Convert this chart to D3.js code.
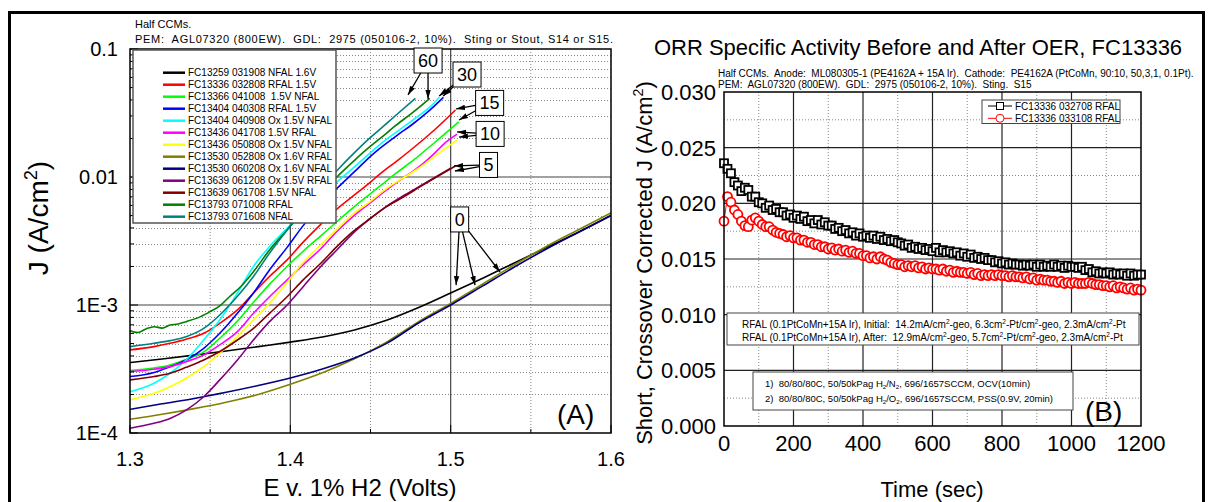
<!DOCTYPE html>
<html>
<head>
<meta charset="utf-8">
<script src="https://cdn.jsdelivr.net/npm/d3@7"></script>
<style>
  body { margin: 0; background: #fff; }
  svg { display: block; font-family: "Liberation Sans", Arial, sans-serif; }
  text { white-space: pre; }
</style>
</head>
<body>
<svg id="chart" width="1213" height="502"></svg>
<script>
// ---------- panel A : E (V) vs J (A/cm2) ----------
const eTicks = [1.3, 1.4, 1.5, 1.6];
const jTicks = [1e-4, 1e-3, 1e-2, 1e-1];
const jTickLabels = ["1E-4", "1E-3", "0.01", "0.1"];

const seriesNames = [
  "FC13259 031908 NFAL 1.6V",
  "FC13336 032808 RFAL 1.5V",
  "FC13366 041008  1.5V NFAL",
  "FC13404 040308 RFAL 1.5V",
  "FC13404 040908 Ox 1.5V NFAL",
  "FC13436 041708 1.5V RFAL",
  "FC13436 050808 Ox 1.5V NFAL",
  "FC13530 052808 Ox 1.6V RFAL",
  "FC13530 060208 Ox 1.6V NFAL",
  "FC13639 061208 Ox 1.5V RFAL",
  "FC13639 061708 1.5V NFAL",
  "FC13793 071008 RFAL",
  "FC13793 071608 NFAL"
];
const seriesColors = ["#000000", "#ff0000", "#00ff00", "#0000ff", "#00ffff", "#ff00ff",
  "#ffff00", "#808000", "#000080", "#800080", "#800000", "#008000", "#008080"];

const fc13259 = [[1.30,3.55e-4],[1.32,3.79e-4],[1.34,4.06e-4],[1.36,4.37e-4],[1.38,4.73e-4],
  [1.40,5.13e-4],[1.42,5.62e-4],[1.44,6.38e-4],[1.46,7.59e-4],[1.48,9.55e-4],[1.50,1.24e-3],
  [1.52,1.62e-3],[1.54,2.14e-3],[1.56,2.82e-3],[1.58,3.72e-3],[1.60,5.01e-3]];
const fc13336 = [[1.300,4.46e-4],[1.315,4.73e-4],[1.325,5.02e-4],[1.335,5.40e-4],[1.346,6.01e-4],
  [1.356,7.19e-4],[1.367,9.15e-4],[1.377,1.24e-3],[1.387,1.67e-3],[1.398,2.25e-3],[1.408,3.10e-3],
  [1.419,4.27e-3],[1.429,5.62e-3],[1.439,7.08e-3],[1.450,9.12e-3],[1.456,1.06e-2],[1.466,1.32e-2],
  [1.477,1.70e-2],[1.490,2.34e-2],[1.503,3.34e-2]];
const fc13366 = [[1.300,3.08e-4],[1.315,3.22e-4],[1.325,3.40e-4],[1.335,3.75e-4],[1.346,4.30e-4],
  [1.356,5.50e-4],[1.367,7.50e-4],[1.377,1.05e-3],[1.387,1.45e-3],[1.398,2.00e-3],[1.408,2.63e-3],
  [1.419,3.47e-3],[1.429,4.47e-3],[1.439,5.75e-3],[1.450,7.41e-3],[1.456,8.51e-3],[1.466,1.07e-2],
  [1.477,1.36e-2],[1.490,1.86e-2],[1.505,2.70e-2]];
const fc13404a = [[1.300,2.76e-4],[1.315,2.97e-4],[1.325,3.30e-4],[1.335,3.72e-4],[1.346,4.59e-4],
  [1.356,6.01e-4],[1.367,8.61e-4],[1.377,1.24e-3],[1.387,1.88e-3],[1.398,2.82e-3],[1.408,4.17e-3],
  [1.419,6.03e-3],[1.429,8.13e-3],[1.440,1.10e-2],[1.450,1.45e-2],[1.456,1.68e-2],[1.466,2.09e-2],
  [1.477,2.63e-2],[1.487,3.33e-2],[1.4955,4.19e-2]];
const fc13404b = [[1.300,2.10e-4],[1.315,2.45e-4],[1.325,2.93e-4],[1.335,3.72e-4],[1.346,5.33e-4],
  [1.356,7.64e-4],[1.367,1.24e-3],[1.377,2.00e-3],[1.387,2.86e-3],[1.398,3.98e-3],[1.408,5.25e-3],
  [1.419,6.92e-3],[1.429,9.12e-3],[1.440,1.20e-2],[1.450,1.55e-2],[1.456,1.80e-2],[1.466,2.24e-2],
  [1.477,2.82e-2],[1.487,3.51e-2],[1.493,4.20e-2]];
const fc13436a = [[1.300,3.02e-4],[1.315,3.15e-4],[1.325,3.30e-4],[1.335,3.61e-4],[1.346,4.07e-4],
  [1.356,4.88e-4],[1.367,6.19e-4],[1.377,8.61e-4],[1.387,1.16e-3],[1.398,1.57e-3],[1.408,2.06e-3],
  [1.419,2.75e-3],[1.429,3.75e-3],[1.439,4.90e-3],[1.450,6.31e-3],[1.460,7.94e-3],[1.470,9.77e-3],
  [1.477,1.12e-2],[1.486,1.38e-2],[1.491,1.58e-2],[1.4955,1.80e-2],[1.504,2.16e-2]];
const fc13436b = [[1.300,1.81e-4],[1.315,2.04e-4],[1.325,2.30e-4],[1.335,2.68e-4],[1.346,3.30e-4],
  [1.356,4.20e-4],[1.367,5.66e-4],[1.377,7.64e-4],[1.387,1.03e-3],[1.398,1.50e-3],[1.408,2.15e-3],
  [1.419,2.95e-3],[1.429,3.90e-3],[1.439,5.13e-3],[1.450,6.46e-3],[1.460,8.13e-3],[1.470,9.77e-3],
  [1.480,1.17e-2],[1.490,1.45e-2],[1.504,1.95e-2]];
const fc13530a = [[1.30,1.28e-4],[1.32,1.40e-4],[1.34,1.55e-4],[1.36,1.74e-4],[1.38,2.00e-4],
  [1.40,2.40e-4],[1.42,2.95e-4],[1.44,3.80e-4],[1.46,5.13e-4],[1.48,7.41e-4],[1.50,1.03e-3],
  [1.52,1.46e-3],[1.54,2.07e-3],[1.56,2.88e-3],[1.58,3.89e-3],[1.60,5.25e-3]];
const fc13530b = [[1.30,1.53e-4],[1.32,1.69e-4],[1.34,1.86e-4],[1.36,2.08e-4],[1.38,2.35e-4],
  [1.40,2.69e-4],[1.42,3.16e-4],[1.44,3.85e-4],[1.46,5.01e-4],[1.48,7.24e-4],[1.50,1.00e-3],
  [1.52,1.41e-3],[1.54,1.99e-3],[1.56,2.75e-3],[1.58,3.72e-3],[1.60,5.01e-3]];
const fc13639a = [[1.300,1.09e-4],[1.315,1.19e-4],[1.325,1.30e-4],[1.335,1.51e-4],[1.346,1.92e-4],
  [1.356,2.60e-4],[1.367,3.72e-4],[1.377,5.33e-4],[1.387,7.41e-4],[1.398,1.00e-3],[1.408,1.39e-3],
  [1.419,2.00e-3],[1.429,2.69e-3],[1.439,3.63e-3],[1.450,4.76e-3],[1.460,5.90e-3],[1.471,7.20e-3],
  [1.481,8.50e-3],[1.500,1.17e-2]];
const fc13639b = [[1.300,2.60e-4],[1.315,2.76e-4],[1.325,2.93e-4],[1.335,3.26e-4],[1.346,3.72e-4],
  [1.356,4.33e-4],[1.367,5.33e-4],[1.377,6.57e-4],[1.387,8.61e-4],[1.398,1.16e-3],[1.408,1.57e-3],
  [1.419,2.12e-3],[1.429,2.86e-3],[1.439,3.74e-3],[1.450,4.76e-3],[1.460,5.87e-3],[1.471,7.03e-3],
  [1.481,8.41e-3],[1.503,1.22e-2]];
const fc13793a = [[1.300,6.30e-4],[1.305,6.10e-4],[1.310,6.50e-4],[1.315,6.77e-4],[1.320,6.60e-4],
  [1.325,6.98e-4],[1.330,7.10e-4],[1.335,7.41e-4],[1.344,8.11e-4],[1.350,8.88e-4],[1.356,9.84e-4],
  [1.362,1.16e-3],[1.369,1.39e-3],[1.377,1.82e-3],[1.387,2.69e-3],[1.398,3.86e-3],[1.408,5.37e-3],
  [1.419,7.41e-3],[1.429,1.00e-2],[1.440,1.35e-2],[1.450,1.74e-2],[1.456,2.00e-2],[1.466,2.54e-2],
  [1.477,3.24e-2],[1.487,4.12e-2]];
const fc13793b = [[1.300,4.73e-4],[1.315,5.02e-4],[1.325,5.27e-4],[1.335,5.66e-4],[1.346,6.57e-4],
  [1.356,8.36e-4],[1.367,1.17e-3],[1.377,1.67e-3],[1.387,2.54e-3],[1.398,3.86e-3],[1.408,5.62e-3],
  [1.419,8.13e-3],[1.429,1.12e-2],[1.440,1.55e-2],[1.450,2.04e-2],[1.456,2.37e-2],[1.466,3.05e-2],
  [1.478,4.12e-2]];
const seriesData = [fc13259, fc13336, fc13366, fc13404a, fc13404b, fc13436a, fc13436b,
  fc13530a, fc13530b, fc13639a, fc13639b, fc13793a, fc13793b];

// OER minutes: box centre (E, J) and arrow targets
const oerLabels = [
  { label: "60", e: 1.4859, j: 0.0813, tips: [[1.4734, 0.0438], [1.4859, 0.0407]] },
  { label: "30", e: 1.5102, j: 0.0632, tips: [[1.4928, 0.0430], [1.4953, 0.0430]] },
  { label: "15", e: 1.5243, j: 0.0379, tips: [[1.5034, 0.0340], [1.5052, 0.0279]] },
  { label: "10", e: 1.5246, j: 0.0217, tips: [[1.5040, 0.0225], [1.5052, 0.0205]] },
  { label: "5", e: 1.5236, j: 0.01242, tips: [[1.5021, 0.0122], [1.5027, 0.01114]] },
  { label: "0", e: 1.5056, j: 0.00466, tips: [[1.5034, 0.00143], [1.5152, 0.00143], [1.5308, 0.00181]] }
];

// ---------- panel B : ORR activity vs time ----------
const timeTicks = [0, 200, 400, 600, 800, 1000, 1200];
const activityTicks = [0, 0.005, 0.010, 0.015, 0.020, 0.025, 0.030];
const activityNames = ["FC13336 032708 RFAL", "FC13336 033108 RFAL"];
const timeSec = [0,10,20,30,40,50,60,70,80,90,100,110,120,130,140,150,160,170,180,190,200,
  210,220,230,240,250,260,270,280,290,300,310,320,330,340,350,360,370,380,390,400,
  410,420,430,440,450,460,470,480,490,500,510,520,530,540,550,560,570,580,590,600,
  610,620,630,640,650,660,670,680,690,700,710,720,730,740,750,760,770,780,790,800,
  810,820,830,840,850,860,870,880,890,900,910,920,930,940,950,960,970,980,990,1000,
  1010,1020,1030,1040,1050,1060,1070,1080,1090,1100,1110,1120,1130,1140,1150,1160,1170,1180,1190,1200];
const before = [0.0236,0.0231,0.0227,0.0219,0.0216,0.0211,0.0214,0.0212,0.0206,0.0206,0.0201,
  0.0200,0.0196,0.0198,0.0194,0.0195,0.0192,0.0192,0.0189,0.0190,0.0187,
  0.0189,0.0186,0.0188,0.0184,0.0185,0.0182,0.0185,0.0181,0.0183,0.0180,
  0.0180,0.0177,0.0178,0.0175,0.0176,0.0173,0.0174,0.0171,0.0173,0.0170,
  0.0171,0.0169,0.0171,0.0168,0.0170,0.0167,0.0168,0.0166,0.0167,0.0165,
  0.0164,0.0162,0.0163,0.0160,0.0161,0.0159,0.0160,0.0158,0.0159,0.0157,
  0.0160,0.0156,0.0158,0.0156,0.0157,0.0155,0.0156,0.0153,0.0155,0.0152,
  0.0154,0.0151,0.0152,0.0150,0.0151,0.0149,0.0149,0.0147,0.0148,0.0146,
  0.0147,0.0145,0.0146,0.0145,0.0145,0.0144,0.0145,0.0144,0.0145,0.0143,
  0.0145,0.0143,0.0144,0.0143,0.0145,0.0143,0.0144,0.0142,0.0144,0.0143,
  0.0143,0.0142,0.0143,0.0140,0.0141,0.0138,0.0139,0.0137,0.0138,0.0137,
  0.0138,0.0136,0.0137,0.0136,0.0137,0.0135,0.0137,0.0135,0.0136,0.0136];
const after = [0.0184,0.0206,0.0201,0.0194,0.0190,0.0184,0.0180,0.0179,0.0185,0.0187,0.0184,
  0.0181,0.0179,0.0179,0.0176,0.0174,0.0173,0.0172,0.0170,0.0171,0.0169,
  0.0169,0.0167,0.0167,0.0165,0.0165,0.0163,0.0163,0.0161,0.0161,0.0159,
  0.0160,0.0158,0.0159,0.0157,0.0158,0.0156,0.0157,0.0155,0.0155,0.0153,
  0.0153,0.0151,0.0152,0.0150,0.0152,0.0150,0.0149,0.0147,0.0146,0.0145,
  0.0145,0.0143,0.0144,0.0143,0.0144,0.0142,0.0143,0.0141,0.0142,0.0141,
  0.0141,0.0140,0.0141,0.0139,0.0140,0.0138,0.0139,0.0138,0.0138,0.0137,
  0.0138,0.0136,0.0137,0.0135,0.0136,0.0135,0.0136,0.0135,0.0136,0.0135,
  0.0135,0.0134,0.0135,0.0134,0.0134,0.0133,0.0134,0.0132,0.0133,0.0131,
  0.0132,0.0131,0.0131,0.0130,0.0130,0.0129,0.0130,0.0128,0.0129,0.0128,
  0.0129,0.0128,0.0128,0.0128,0.0129,0.0128,0.0127,0.0127,0.0126,0.0126,
  0.0125,0.0126,0.0124,0.0125,0.0124,0.0123,0.0124,0.0122,0.0123,0.0122];

const activityNotes = [
  [["RFAL (0.1PtCoMn+15A Ir), Initial:  14.2mA/cm"], ["2", "sup"], ["-geo, 6.3cm"], ["2", "sup"], ["-Pt/cm"], ["2", "sup"], ["-geo, 2.3mA/cm"], ["2", "sup"], ["-Pt"]],
  [["RFAL (0.1PtCoMn+15A Ir), After:  12.9mA/cm"], ["2", "sup"], ["-geo, 5.7cm"], ["2", "sup"], ["-Pt/cm"], ["2", "sup"], ["-geo, 2.3mA/cm"], ["2", "sup"], ["-Pt"]]
];
const conditionNotes = [
  [["1)  80/80/80C, 50/50kPag H"], ["2", "sub"], ["/N"], ["2", "sub"], [", 696/1657SCCM, OCV(10min)"]],
  [["2)  80/80/80C, 50/50kPag H"], ["2", "sub"], ["/O"], ["2", "sub"], [", 696/1657SCCM, PSS(0.9V, 20min)"]]
];

// ---------------------------------------------------------------
const svg = d3.select("#chart");

svg.append("defs").append("marker")
  .attr("id", "arrow")
  .attr("viewBox", "0 0 10 6")
  .attr("refX", 10).attr("refY", 3)
  .attr("markerUnits", "userSpaceOnUse")
  .attr("markerWidth", 9).attr("markerHeight", 6)
  .attr("orient", "auto")
  .append("path").attr("d", "M0,0 L10,3 L0,6 Z").attr("fill", "#000");

// one line of text with super/subscript pieces
function richLine(textSel, parts, size) {
  let shift = 0;
  parts.forEach(p => {
    const mode = p[1];
    const t = textSel.append("tspan").text(p[0]);
    let target = 0;
    if (mode === "sup") { target = -size * 0.4; t.attr("font-size", size * 0.65); }
    if (mode === "sub") { target = size * 0.25; t.attr("font-size", size * 0.65); }
    if (target !== shift) t.attr("dy", target - shift);
    shift = target;
  });
}

// outer frame
svg.append("rect")
  .attr("x", 9.5).attr("y", 12.5).attr("width", 1194).attr("height", 520)
  .attr("fill", "none").attr("stroke", "#000").attr("stroke-width", 3);

function drawPanelA() {
  const x = d3.scaleLinear().domain([1.3, 1.6]).range([130, 611]);
  const y = d3.scaleLog().domain([1e-4, 0.1]).range([433, 49]);
  const g = svg.append("g");
  const isMajorJ = d => jTicks.some(t => Math.abs(t / d - 1) < 1e-6);
  const isMajorE = d => eTicks.some(t => Math.abs(t - d) < 1e-9);

  g.append("text").attr("x", 135).attr("y", 28).attr("font-size", 11).text("Half CCMs.");
  g.append("text").attr("x", 135).attr("y", 43).attr("font-size", 11)
    .attr("textLength", 478).attr("lengthAdjust", "spacing")
    .text("PEM:  AGL07320 (800EW).  GDL:  2975 (050106-2, 10%).  Sting or Stout, S14 or S15.");

  // grid
  g.selectAll(".gx").data(x.ticks(6).filter(d => !isMajorE(d))).enter().append("line")
    .attr("x1", d => x(d)).attr("x2", d => x(d)).attr("y1", 49).attr("y2", 433)
    .attr("stroke", "#888").attr("stroke-dasharray", "1,2");
  g.selectAll(".gy").data(y.ticks().filter(d => !isMajorJ(d))).enter().append("line")
    .attr("x1", 130).attr("x2", 611)
    .attr("y1", d => Math.round(y(d)) + 0.5).attr("y2", d => Math.round(y(d)) + 0.5)
    .attr("stroke", "#888").attr("stroke-dasharray", "1,2");
  g.selectAll(".Gx").data(eTicks.slice(1, -1)).enter().append("line")
    .attr("x1", d => x(d)).attr("x2", d => x(d)).attr("y1", 49).attr("y2", 433)
    .attr("stroke", "#444").attr("stroke-width", 1.2);
  g.selectAll(".Gy").data(jTicks.slice(1, -1)).enter().append("line")
    .attr("x1", 130).attr("x2", 611).attr("y1", d => y(d)).attr("y2", d => y(d))
    .attr("stroke", "#444").attr("stroke-width", 1.2);

  // curves
  const line = d3.line().x(d => x(d[0])).y(d => y(d[1])).curve(d3.curveMonotoneX);
  g.selectAll(".curve").data(seriesData).enter().append("path")
    .attr("d", line).attr("fill", "none")
    .attr("stroke", (d, i) => seriesColors[i]).attr("stroke-width", 1.6);

  // inward ticks
  g.selectAll(".tyl").data(y.ticks()).enter().append("line")
    .attr("x1", 130).attr("x2", d => 130 + (isMajorJ(d) ? 8 : 4))
    .attr("y1", d => y(d)).attr("y2", d => y(d)).attr("stroke", "#000");
  g.selectAll(".txb").data(x.ticks(6)).enter().append("line")
    .attr("x1", d => x(d)).attr("x2", d => x(d))
    .attr("y1", 433).attr("y2", d => 433 - (isMajorE(d) ? 8 : 4))
    .attr("stroke", "#000");

  g.append("rect").attr("x", 130).attr("y", 49).attr("width", 481).attr("height", 384)
    .attr("fill", "none").attr("stroke", "#000").attr("stroke-width", 1.5);

  // tick labels
  g.selectAll(".lx").data(eTicks).enter().append("text")
    .attr("x", d => x(d)).attr("y", 466).attr("text-anchor", "middle").attr("font-size", 20)
    .text(d => d.toFixed(1));
  g.selectAll(".ly").data(jTicks).enter().append("text")
    .attr("x", 118).attr("y", d => y(d)).attr("dy", "0.36em").attr("text-anchor", "end")
    .attr("font-size", 20).text((d, i) => jTickLabels[i]);

  // axis titles
  g.append("text").attr("x", 360).attr("y", 496).attr("text-anchor", "middle")
    .attr("font-size", 24).text("E v. 1% H2 (Volts)");
  const yt = g.append("text").attr("transform", "translate(48,218) rotate(-90)")
    .attr("text-anchor", "middle").attr("font-size", 28);
  richLine(yt, [["J (A/cm"], ["2", "sup"], [")"]], 28);

  // legend
  g.append("rect").attr("x", 133).attr("y", 50).attr("width", 203).attr("height", 173)
    .attr("fill", "#fff").attr("stroke", "#555").attr("stroke-width", 1.5);
  const items = g.selectAll(".li").data(seriesNames).enter().append("g")
    .attr("transform", (d, i) => `translate(0,${72.7 + i * 12})`);
  items.append("line").attr("x1", 163).attr("x2", 185)
    .attr("stroke", (d, i) => seriesColors[i]).attr("stroke-width", 2.5);
  items.append("text").attr("x", 188).attr("dy", "0.35em").attr("font-size", 10).text(d => d);

  // OER minute boxes with arrows
  oerLabels.forEach(a => {
    const cx = x(a.e), cy = y(a.j);
    const t = g.append("text").attr("x", cx).attr("y", cy).attr("dy", "0.36em")
      .attr("text-anchor", "middle").attr("font-size", 18).text(a.label);
    const hw = t.node().getBBox().width / 2 + 4, hh = 12.5;
    a.tips.forEach(tp => {
      const tx = x(tp[0]), ty = y(tp[1]);
      const dx = tx - cx, dy = ty - cy;
      const s = Math.min(Math.abs(hw / dx || Infinity), Math.abs(hh / dy || Infinity));
      g.append("line").attr("x1", cx + dx * s).attr("y1", cy + dy * s)
        .attr("x2", tx).attr("y2", ty).attr("stroke", "#000").attr("stroke-width", 1.3)
        .attr("marker-end", "url(#arrow)");
    });
    g.insert("rect", () => t.node()).attr("x", cx - hw).attr("y", cy - hh)
      .attr("width", hw * 2).attr("height", hh * 2)
      .attr("fill", "#fff").attr("stroke", "#000");
  });

  g.append("text").attr("x", 557).attr("y", 424).attr("font-size", 28).text("(A)");
}

function drawPanelB() {
  const x = d3.scaleLinear().domain([0, 1200]).range([724, 1141]);
  const y = d3.scaleLinear().domain([0, 0.030]).range([426, 92]);
  const g = svg.append("g");

  g.append("text").attr("x", 918).attr("y", 55).attr("text-anchor", "middle")
    .attr("font-size", 22).text("ORR Specific Activity Before and After OER, FC13336");
  g.append("text").attr("x", 718).attr("y", 77).attr("font-size", 10)
    .text("Half CCMs.  Anode:  ML080305-1 (PE4162A + 15A Ir).  Cathode:  PE4162A (PtCoMn, 90:10, 50,3,1, 0.1Pt).");
  g.append("text").attr("x", 718).attr("y", 88).attr("font-size", 10)
    .text("PEM:  AGL07320 (800EW).  GDL:  2975 (050106-2, 10%).  Sting.  S15");

  // grid
  const minorT = d3.pairs(timeTicks).map(p => (p[0] + p[1]) / 2);
  const minorA = d3.pairs(activityTicks).map(p => (p[0] + p[1]) / 2);
  g.selectAll(".gx").data(minorT).enter().append("line")
    .attr("x1", d => x(d)).attr("x2", d => x(d)).attr("y1", 92).attr("y2", 426)
    .attr("stroke", "#888").attr("stroke-dasharray", "1,2");
  g.selectAll(".gy").data(minorA).enter().append("line")
    .attr("x1", 724).attr("x2", 1141).attr("y1", d => y(d)).attr("y2", d => y(d))
    .attr("stroke", "#888").attr("stroke-dasharray", "1,2");
  g.selectAll(".Gx").data(timeTicks.slice(1, -1)).enter().append("line")
    .attr("x1", d => x(d)).attr("x2", d => x(d)).attr("y1", 92).attr("y2", 426)
    .attr("stroke", "#222").attr("stroke-width", 1.2);
  g.selectAll(".Gy").data(activityTicks.slice(1, -1)).enter().append("line")
    .attr("x1", 724).attr("x2", 1141).attr("y1", d => y(d)).attr("y2", d => y(d))
    .attr("stroke", "#222").attr("stroke-width", 1.2);

  // series
  const pts = vals => timeSec.map((t, i) => [t, vals[i]]);
  const line = d3.line().x(d => x(d[0])).y(d => y(d[1]));
  const sBefore = pts(before), sAfter = pts(after);
  g.append("path").attr("d", line(sBefore)).attr("fill", "none").attr("stroke", "#000");
  g.selectAll(".sq").data(sBefore).enter().append("rect")
    .attr("x", d => x(d[0]) - 4).attr("y", d => y(d[1]) - 4)
    .attr("width", 8).attr("height", 8)
    .attr("fill", "#fff").attr("stroke", "#000").attr("stroke-width", 1.8);
  g.append("path").attr("d", line(sAfter)).attr("fill", "none").attr("stroke", "#f00");
  g.selectAll(".ci").data(sAfter).enter().append("circle")
    .attr("cx", d => x(d[0])).attr("cy", d => y(d[1])).attr("r", 4.5)
    .attr("fill", "#fff").attr("stroke", "#f00").attr("stroke-width", 1.8);

  g.append("rect").attr("x", 724).attr("y", 92).attr("width", 417).attr("height", 334)
    .attr("fill", "none").attr("stroke", "#000").attr("stroke-width", 1.5);

  // tick labels
  g.selectAll(".lx").data(timeTicks).enter().append("text")
    .attr("x", d => x(d)).attr("y", 451).attr("text-anchor", "middle").attr("font-size", 22)
    .text(d => d);
  g.selectAll(".ly").data(activityTicks).enter().append("text")
    .attr("x", 716).attr("y", d => y(d)).attr("dy", "0.36em").attr("text-anchor", "end")
    .attr("font-size", 22).text(d => d3.format(".3f")(d));

  g.append("text").attr("x", 932).attr("y", 497).attr("text-anchor", "middle")
    .attr("font-size", 22).text("Time (sec)");
  const yt = g.append("text").attr("transform", "translate(652,263) rotate(-90)")
    .attr("text-anchor", "middle").attr("font-size", 22);
  richLine(yt, [["Short, Crossover Corrected J (A/cm"], ["2", "sup"], [")"]], 22);

  // legend
  g.append("rect").attr("x", 982).attr("y", 100).attr("width", 138).attr("height", 23.5)
    .attr("fill", "#fff").attr("stroke", "#444");
  const li = g.selectAll(".li").data(activityNames).enter().append("g")
    .attr("transform", (d, i) => `translate(0,${106 + i * 12.3})`);
  li.append("line").attr("x1", 988).attr("x2", 1012).attr("stroke", (d, i) => i ? "#f00" : "#000");
  li.filter((d, i) => i === 0).append("rect").attr("x", 996.5).attr("y", -3.5)
    .attr("width", 7).attr("height", 7).attr("fill", "#fff").attr("stroke", "#000");
  li.filter((d, i) => i === 1).append("circle").attr("cx", 1000).attr("r", 4)
    .attr("fill", "#fff").attr("stroke", "#f00");
  li.append("text").attr("x", 1015).attr("dy", "0.35em").attr("font-size", 10).text(d => d);

  // note boxes
  g.append("rect").attr("x", 727).attr("y", 313).attr("width", 412).attr("height", 32)
    .attr("fill", "#fff").attr("stroke", "#444");
  activityNotes.forEach((parts, i) => {
    const t = g.append("text").attr("x", 742).attr("y", 328 + i * 13).attr("font-size", 10);
    richLine(t, parts, 10);
  });
  g.append("rect").attr("x", 753).attr("y", 372).attr("width", 320).attr("height", 38)
    .attr("fill", "#fff").attr("stroke", "#444");
  conditionNotes.forEach((parts, i) => {
    const t = g.append("text").attr("x", 765).attr("y", 387 + i * 15).attr("font-size", 9.5);
    richLine(t, parts, 9.5);
  });

  g.append("text").attr("x", 1085).attr("y", 421).attr("font-size", 28).text("(B)");
}

drawPanelA();
drawPanelB();
</script>
</body>
</html>
